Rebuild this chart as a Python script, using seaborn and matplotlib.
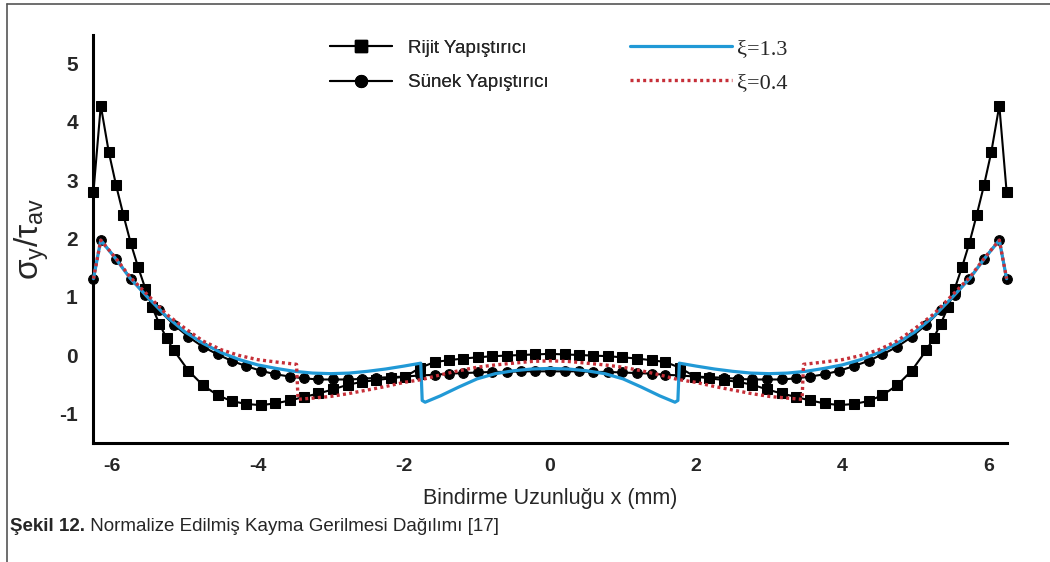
import numpy as np
import pandas as pd
import seaborn as sns
import matplotlib
matplotlib.use("Agg")
import matplotlib.pyplot as plt
from matplotlib.lines import Line2D

# rigid adhesive (squares)
rigid_x = [-6.25, -6.15, -6.04, -5.94, -5.84, -5.74, -5.64, -5.54, -5.45, -5.35, -5.25, -5.15,
           -4.95, -4.75, -4.55, -4.36, -4.16, -3.96, -3.76, -3.56, -3.37, -3.17, -2.97, -2.77,
           -2.57, -2.38, -2.18, -1.98, -1.78, -1.58, -1.39, -1.19, -0.99, -0.79, -0.59, -0.40,
           -0.20, 0.00, 0.20, 0.40, 0.59, 0.79, 0.99, 1.19, 1.39, 1.58, 1.78, 1.98, 2.18, 2.38,
           2.57, 2.77, 2.97, 3.17, 3.37, 3.56, 3.76, 3.96, 4.16, 4.36, 4.55, 4.75, 4.95, 5.15,
           5.25, 5.35, 5.45, 5.54, 5.64, 5.74, 5.84, 5.94, 6.04, 6.15, 6.25]
rigid_y = [2.80, 4.28, 3.48, 2.91, 2.40, 1.92, 1.51, 1.14, 0.83, 0.54, 0.29, 0.08,
           -0.27, -0.52, -0.69, -0.79, -0.84, -0.86, -0.83, -0.78, -0.72, -0.66, -0.59, -0.51,
           -0.46, -0.43, -0.40, -0.37, -0.22, -0.12, -0.09, -0.06, -0.04, -0.02, -0.01, 0.00,
           0.01, 0.02, 0.01, 0.00, -0.01, -0.02, -0.04, -0.06, -0.09, -0.12, -0.22, -0.37, -0.40, -0.43,
           -0.46, -0.51, -0.59, -0.66, -0.72, -0.78, -0.83, -0.86, -0.84, -0.79, -0.69, -0.52, -0.27, 0.08,
           0.29, 0.54, 0.83, 1.14, 1.51, 1.92, 2.40, 2.91, 3.48, 4.28, 2.80]

# ductile adhesive (circles)
ductile_x = [-6.25, -6.15, -5.94, -5.74, -5.54, -5.35, -5.15, -4.95, -4.75, -4.55, -4.36, -4.16,
             -3.96, -3.76, -3.56, -3.37, -3.17, -2.97, -2.77, -2.57, -2.38, -2.18, -1.98, -1.78,
             -1.58, -1.39, -1.19, -0.99, -0.79, -0.59, -0.40, -0.20, 0.00, 0.20, 0.40, 0.59, 0.79,
             0.99, 1.19, 1.39, 1.58, 1.78, 1.98, 2.18, 2.38, 2.57, 2.77, 2.97, 3.17, 3.37, 3.56,
             3.76, 3.96, 4.16, 4.36, 4.55, 4.75, 4.95, 5.15, 5.35, 5.54, 5.74, 5.94, 6.15, 6.25]
ductile_y = [1.31, 1.97, 1.65, 1.31, 1.03, 0.77, 0.52, 0.31, 0.14, 0.01, -0.10, -0.19,
             -0.27, -0.33, -0.37, -0.40, -0.42, -0.42, -0.42, -0.41, -0.39, -0.38, -0.37, -0.35,
             -0.34, -0.32, -0.31, -0.30, -0.29, -0.29, -0.28, -0.28, -0.28, -0.28, -0.28, -0.29, -0.29,
             -0.30, -0.31, -0.32, -0.34, -0.35, -0.37, -0.38, -0.39, -0.41, -0.42, -0.42, -0.42, -0.40, -0.37,
             -0.33, -0.27, -0.19, -0.10, 0.01, 0.14, 0.31, 0.52, 0.77, 1.03, 1.31, 1.65, 1.97, 1.31]

# xi = 1.3 (solid blue)
xi13_x = [-6.25, -6.15, -5.95, -5.75, -5.50, -5.25, -5.00, -4.75, -4.50, -4.25, -4.00, -3.75,
          -3.50, -3.25, -3.00, -2.75, -2.50, -2.25, -2.00, -1.77, -1.75, -1.71, -1.50, -1.25,
          -1.00, -0.75, -0.50, -0.25, 0.00, 0.25, 0.50, 0.75, 1.00, 1.25, 1.50, 1.71, 1.75, 1.77,
          2.00, 2.25, 2.50, 2.75, 3.00, 3.25, 3.50, 3.75, 4.00, 4.25, 4.50, 4.75, 5.00, 5.25,
          5.50, 5.75, 5.95, 6.15, 6.25]
xi13_y = [1.31, 1.97, 1.66, 1.32, 0.98, 0.66, 0.40, 0.20, 0.04, -0.08, -0.17, -0.23,
          -0.28, -0.31, -0.32, -0.31, -0.28, -0.24, -0.19, -0.14, -0.78, -0.81, -0.70, -0.55,
          -0.41, -0.32, -0.27, -0.24, -0.23, -0.24, -0.27, -0.32, -0.41, -0.55, -0.70, -0.81, -0.78, -0.14,
          -0.19, -0.24, -0.28, -0.31, -0.32, -0.31, -0.28, -0.23, -0.17, -0.08, 0.04, 0.20, 0.40, 0.66,
          0.98, 1.32, 1.66, 1.97, 1.31]

# xi = 0.4 (dotted red)
xi04_x = [-6.25, -6.15, -5.95, -5.75, -5.50, -5.25, -5.00, -4.75, -4.50, -4.25, -4.00, -3.75,
          -3.47, -3.45, -3.25, -3.00, -2.75, -2.50, -2.25, -2.00, -1.75, -1.50, -1.25, -1.00,
          -0.75, -0.50, -0.25, 0.00, 0.25, 0.50, 0.75, 1.00, 1.25, 1.50, 1.75, 2.00, 2.25, 2.50,
          2.75, 3.00, 3.25, 3.45, 3.47, 3.75, 4.00, 4.25, 4.50, 4.75, 5.00, 5.25, 5.50, 5.75,
          5.95, 6.15, 6.25]
xi04_y = [1.31, 1.97, 1.67, 1.34, 1.02, 0.70, 0.46, 0.24, 0.09, -0.01, -0.08, -0.12,
          -0.16, -0.76, -0.74, -0.71, -0.66, -0.60, -0.54, -0.47, -0.42, -0.34, -0.27, -0.21,
          -0.17, -0.14, -0.11, -0.10, -0.11, -0.14, -0.17, -0.21, -0.27, -0.34, -0.42, -0.47, -0.54, -0.60,
          -0.66, -0.71, -0.74, -0.76, -0.16, -0.12, -0.08, -0.01, 0.09, 0.24, 0.46, 0.70, 1.02, 1.34,
          1.67, 1.97, 1.31]

x_ticks = [-6, -4, -2, 0, 2, 4, 6]
y_ticks = [-1, 0, 1, 2, 3, 4, 5]

sns.set_style("white")
plt.rcParams["font.family"] = ["Liberation Sans", "DejaVu Sans"]
plt.rcParams["mathtext.fontset"] = "custom"
plt.rcParams["mathtext.rm"] = "Liberation Sans"
plt.rcParams["mathtext.it"] = "Liberation Sans"
plt.rcParams["mathtext.sf"] = "Liberation Sans"

BLUE = "#2199d6"
RED = "#c62f38"
DOTS = (0, (0.9, 1.0))

fig = plt.figure(figsize=(10.5, 5.62), dpi=100)
ax = fig.add_axes([0.0886, 0.2117, 0.8705, 0.726])

sns.lineplot(x=rigid_x, y=rigid_y, ax=ax, color="black", lw=1.5, marker="s", markersize=6.5,
             markeredgecolor="black", estimator=None, sort=False, clip_on=False, zorder=3)
sns.lineplot(x=ductile_x, y=ductile_y, ax=ax, color="black", lw=1.5, marker="o", markersize=7,
             markeredgecolor="black", estimator=None, sort=False, clip_on=False, zorder=3)
sns.lineplot(x=xi13_x, y=xi13_y, ax=ax, color=BLUE, lw=2.3, estimator=None, sort=False,
             clip_on=False, zorder=4)
sns.lineplot(x=xi04_x, y=xi04_y, ax=ax, color=RED, lw=2.4, linestyle=DOTS,
             estimator=None, sort=False, clip_on=False, zorder=5)

ax.set_xlim(-6.256, 6.256)
ax.set_ylim(-1.51, 5.49)
ax.set_xticks(x_ticks)
ax.set_yticks(y_ticks)
ax.set_xticklabels([str(v) for v in x_ticks], fontweight="bold", fontsize=14)
ax.set_yticklabels([str(v) for v in y_ticks], fontweight="bold", fontsize=15)
ax.tick_params(axis="x", direction="in", length=7, width=2, color="black", pad=11)
ax.tick_params(axis="y", direction="in", length=7, width=2, color="black", pad=11)
for side in ["top", "right"]:
    ax.spines[side].set_visible(False)
for side in ["left", "bottom"]:
    ax.spines[side].set_linewidth(2.2)
    ax.spines[side].set_color("black")

ax.set_xlabel("Bindirme Uzunluğu x (mm)", fontsize=15.5, labelpad=9)
ax.set_ylabel(r"$\sigma_{y}/\tau_{av}$", fontsize=24, labelpad=6)

# legends: left column (adhesives), right column (xi)
h1 = [Line2D([], [], color="black", lw=1.5, marker="s", markersize=8.5),
      Line2D([], [], color="black", lw=1.5, marker="o", markersize=8.5)]
leg1 = fig.legend(h1, ["Rijit Yapıştırıcı", "Sünek Yapıştırıcı"], loc="upper left",
                  bbox_to_anchor=(0.314, 0.929), frameon=False, fontsize=13.5,
                  handlelength=3.3, handletextpad=0.9, labelspacing=0.92, borderpad=0, borderaxespad=0)
h2 = [Line2D([], [], color=BLUE, lw=2.3),
      Line2D([], [], color=RED, lw=2.4, linestyle=DOTS)]
leg2 = fig.legend(h2, ["ξ=1.3", "ξ=0.4"], loc="upper left",
                  bbox_to_anchor=(0.6, 0.932), frameon=False,
                  handlelength=4.6, handletextpad=0.2, labelspacing=0.62, borderpad=0, borderaxespad=0,
                  prop={"family": "Liberation Serif", "size": 16})
fig.add_artist(leg1)

# caption
t1 = fig.text(0.0095, 0.048, "Şekil 12.", fontsize=13.5, fontweight="bold", va="bottom")
ax.annotate(" Normalize Edilmiş Kayma Gerilmesi Dağılımı [17]", xy=(1, 0), xycoords=t1,
            fontsize=13.5, va="bottom", ha="left", annotation_clip=False)

# page frame (top and left edge)
fig.add_artist(Line2D([0.0067, 1.0], [0.993, 0.993], color="#555555", lw=1.2))
fig.add_artist(Line2D([0.0067, 0.0067], [0.0, 0.993], color="#555555", lw=1.2))

fig.savefig("out.png", dpi=100)
